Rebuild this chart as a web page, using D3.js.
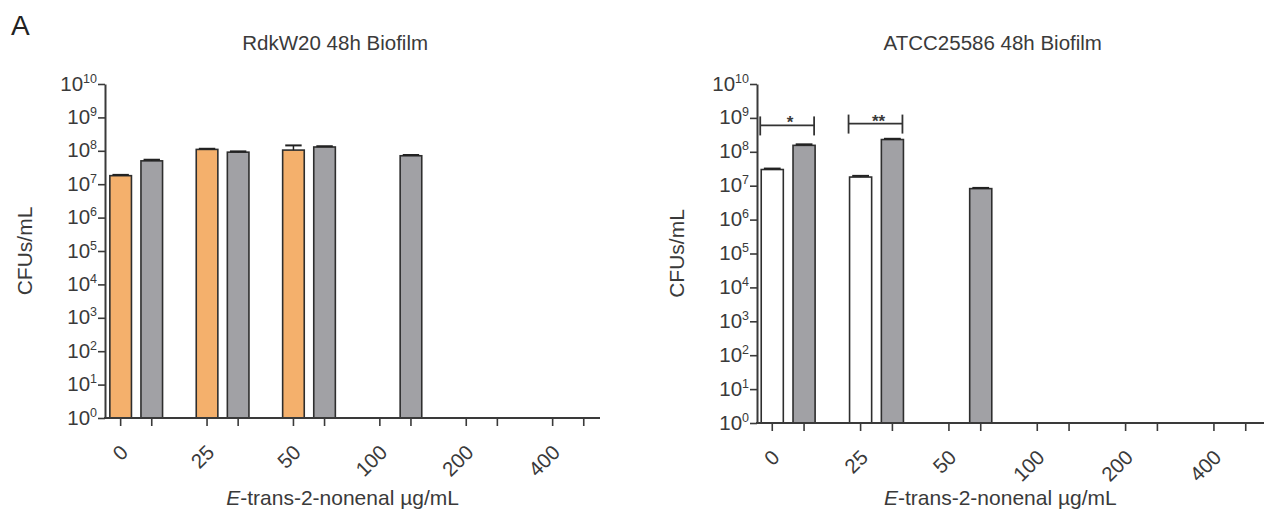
<!DOCTYPE html>
<html><head><meta charset="utf-8">
<script src="https://cdn.jsdelivr.net/npm/d3@7"></script>
<style>
body{margin:0;background:#fff}
svg{display:block}
text{font-family:"Liberation Sans",Arial,sans-serif;fill:#3a3a3a}
</style>
</head><body>
<svg id="c" width="1269" height="514"></svg>
<script>
// ---------- data ----------
const categories = ["0", "25", "50", "100", "200", "400"];
const yTickExponents = [0, 1, 2, 3, 4, 5, 6, 7, 8, 9, 10];
const xAxisTitle = "-trans-2-nonenal µg/mL";

// RdkW20 48h Biofilm
const rdkSeriesA    = [1.8e7, 1.1e8, 1.05e8, null, null, null];
const rdkSeriesAErr = [1.9e7, 1.15e8, 1.45e8, null, null, null];
const rdkSeriesB    = [5.0e7, 9.1e7, 1.3e8, 7.1e7, null, null];
const rdkSeriesBErr = [5.4e7, 9.6e7, 1.37e8, 7.5e7, null, null];

// ATCC25586 48h Biofilm
const atccSeriesA    = [3.0e7, 1.8e7, null, null, null, null];
const atccSeriesAErr = [3.2e7, 1.95e7, null, null, null, null];
const atccSeriesB    = [1.55e8, 2.3e8, 8.2e6, null, null, null];
const atccSeriesBErr = [1.66e8, 2.42e8, 8.6e6, null, null, null];
const atccSignifCats   = ["0", "25"];
const atccSignifLabels = ["*", "**"];
const atccSignifLevels = [6.0e8, 6.8e8];

// ---------- drawing ----------
const svg = d3.select("#c");
const ink = "#3a3a3a";

svg.append("text").attr("x", 11).attr("y", 35)
  .style("font-size", "28px").style("fill", "#222").text("A");

function panel(opt) {
  const g = svg.append("g");
  const y = d3.scaleLog().domain([1, 1e10]).range([opt.yBottom, opt.yTop]);
  const x0 = d3.scaleBand().domain(categories).range([opt.bandStart, opt.bandEnd]).padding(0);
  const bw = x0.bandwidth();
  const x1 = d3.scalePoint().domain(["A", "B"]).range([-0.18 * bw, 0.18 * bw]);
  const barW = 0.25 * bw;
  const cx = (c, s) => x0(c) + bw / 2 + x1(s);

  // title
  g.append("text").attr("x", opt.axisX + 0.465 * (opt.axisEnd - opt.axisX)).attr("y", 50)
    .attr("text-anchor", "middle").style("font-size", "20.5px").text(opt.title);

  // y-axis title
  g.append("text")
    .attr("transform", `translate(${opt.axisX - 73},${(opt.yBottom + opt.yTop) / 2}) rotate(-90)`)
    .attr("text-anchor", "middle").style("font-size", "21px").text("CFUs/mL");

  // x-axis title
  const xt = g.append("text").attr("x", opt.axisX + 0.48 * (opt.axisEnd - opt.axisX)).attr("y", 505)
    .attr("text-anchor", "middle").style("font-size", "21px");
  xt.append("tspan").style("font-style", "italic").text("E");
  xt.append("tspan").text(xAxisTitle);

  // bars
  const series = [
    {key: "A", vals: opt.A, err: opt.Aerr, fill: opt.fillA},
    {key: "B", vals: opt.B, err: opt.Berr, fill: opt.fillB}
  ];
  series.forEach(s => {
    const d = categories.map((c, i) => ({c, v: s.vals[i], e: s.err[i]})).filter(d => d.v != null);
    g.selectAll(null).data(d).enter().append("rect")
      .attr("x", d => cx(d.c, s.key) - barW / 2)
      .attr("y", d => y(d.v))
      .attr("width", barW)
      .attr("height", d => y(1) - y(d.v))
      .attr("fill", s.fill).attr("stroke", "#2e2e2e").attr("stroke-width", 1.6);
    const de = d.filter(d => d.e != null);
    g.selectAll(null).data(de).enter().append("line")
      .attr("x1", d => cx(d.c, s.key)).attr("x2", d => cx(d.c, s.key))
      .attr("y1", d => y(d.v)).attr("y2", d => y(d.e))
      .attr("stroke", "#222").attr("stroke-width", 1.5);
    g.selectAll(null).data(de).enter().append("line")
      .attr("x1", d => cx(d.c, s.key) - barW * 0.38).attr("x2", d => cx(d.c, s.key) + barW * 0.38)
      .attr("y1", d => y(d.e)).attr("y2", d => y(d.e))
      .attr("stroke", "#222").attr("stroke-width", 2);
  });

  // y axis
  const yAxis = d3.axisLeft(y).tickValues(yTickExponents.map(e => Math.pow(10, e)))
    .tickSize(7).tickSizeOuter(0).tickPadding(2).tickFormat("");
  const ya = g.append("g").attr("transform", `translate(${opt.axisX},0)`).call(yAxis);
  ya.select(".domain").attr("stroke", ink).attr("stroke-width", 2);
  ya.selectAll(".tick line").attr("stroke", ink).attr("stroke-width", 1.6);
  ya.selectAll(".tick").each(function (v) {
    const t = d3.select(this).append("text").attr("x", -8).attr("y", 6)
      .attr("text-anchor", "end").style("font-size", "20.5px").style("fill", ink);
    t.append("tspan").text("10");
    t.append("tspan").attr("dy", -8).style("font-size", "12.5px").text(Math.round(Math.log10(v)));
  });

  // x axis line and ticks
  g.append("line").attr("x1", opt.axisX - 1).attr("x2", opt.axisEnd)
    .attr("y1", y(1)).attr("y2", y(1)).attr("stroke", ink).attr("stroke-width", 2);
  const tickData = [];
  categories.forEach(c => ["A", "B"].forEach(s => tickData.push({c, s})));
  g.selectAll(null).data(tickData).enter().append("line")
    .attr("x1", d => cx(d.c, d.s)).attr("x2", d => cx(d.c, d.s))
    .attr("y1", y(1)).attr("y2", y(1) + 8)
    .attr("stroke", ink).attr("stroke-width", 1.6);
  g.selectAll(null).data(categories).enter().append("text")
    .attr("transform", c => `translate(${cx(c, "A") - 3},${y(1) + 24}) rotate(-45)`)
    .attr("text-anchor", "end").attr("dy", "0.8em")
    .style("font-size", "20.5px").text(c => c);

  // significance brackets
  if (opt.sigCats) {
    opt.sigCats.forEach((c, i) => {
      const xl = cx(c, "A") - barW / 2 - 1, xr = cx(c, "B") + barW / 2 - 1;
      const yy = y(opt.sigLevels[i]);
      const bg = g.append("g").attr("stroke", "#333").attr("stroke-width", 1.8);
      bg.append("line").attr("x1", xl).attr("x2", xr).attr("y1", yy).attr("y2", yy);
      bg.append("line").attr("x1", xl).attr("x2", xl).attr("y1", yy - 9).attr("y2", yy + 10);
      bg.append("line").attr("x1", xr).attr("x2", xr).attr("y1", yy - 9).attr("y2", yy + 10);
      g.append("text").attr("x", (xl + xr) / 2 + 3).attr("y", yy + 3)
        .attr("text-anchor", "middle").style("font-size", "17px").style("font-weight", "bold")
        .text(opt.sigLabels[i]);
    });
  }
}

panel({
  title: "RdkW20 48h Biofilm",
  A: rdkSeriesA, Aerr: rdkSeriesAErr, B: rdkSeriesB, Berr: rdkSeriesBErr,
  fillA: "#f4b06c", fillB: "#a1a1a5",
  axisX: 105, axisEnd: 600, yBottom: 418, yTop: 84,
  bandStart: 93, bandEnd: 611.4
});

panel({
  title: "ATCC25586 48h Biofilm",
  A: atccSeriesA, Aerr: atccSeriesAErr, B: atccSeriesB, Berr: atccSeriesBErr,
  fillA: "#ffffff", fillB: "#a1a1a5",
  axisX: 757, axisEnd: 1264, yBottom: 423, yTop: 84,
  bandStart: 744, bandEnd: 1274,
  sigCats: atccSignifCats, sigLabels: atccSignifLabels, sigLevels: atccSignifLevels
});
</script>
</body></html>
